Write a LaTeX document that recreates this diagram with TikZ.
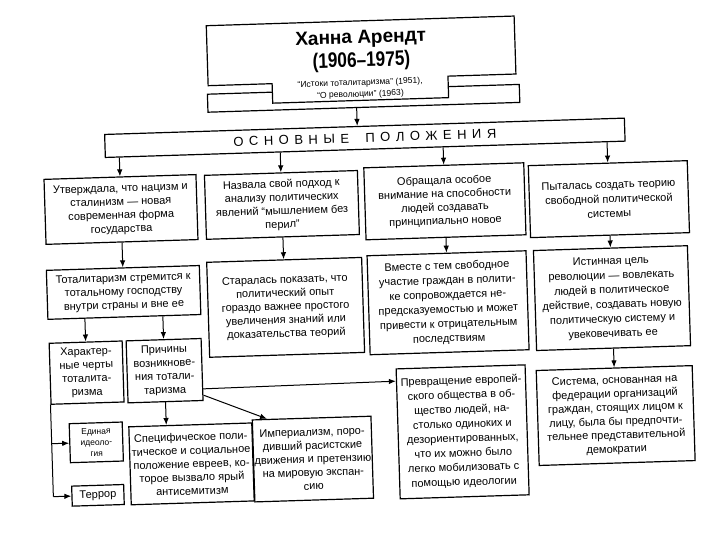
\documentclass[tikz,border=0pt]{standalone}
\usepackage{fontspec}
\setmainfont{Liberation Sans}
\newfontfamily\yearfont[FakeStretch=0.82]{Liberation Sans}
\usetikzlibrary{arrows.meta,calc}
\tikzset{
  frame/.style={draw, line width=1.2pt, fill=white},
  txtbox/.style={draw, line width=1.2pt, fill=white, align=center, inner sep=1pt,
    font=\fontsize{11}{13.5}\selectfont},
  widebox/.style={txtbox, font=\fontsize{11}{14.5}\selectfont},
  smallbox/.style={txtbox, font=\fontsize{8.5}{11}\selectfont},
  arr/.style={line width=1pt, -{Latex[length=7pt,width=5.5pt]}},
  plainline/.style={line width=1pt},
}
\begin{document}
\begin{tikzpicture}[x=1pt,y=-1pt]
\useasboundingbox (0,0) rectangle (720,540);
\fill[white] (0,0) rectangle (720,540);
\begin{scope}[rotate around={1.8:(360,270)}, transform shape]
% title block
\node[frame, minimum width=312pt, minimum height=18pt, inner sep=0pt] (strip) at (369,98.5) {};
\draw[frame] (214,21) -- (522,21) -- (522,79) -- (454,79) -- (454,100.5) -- (278,100.5) -- (278,81) -- (214,81) -- cycle;
\node[font=\fontsize{19}{22}\selectfont\bfseries, anchor=base, inner sep=0pt] (tname) at (368,43.5) {Ханна Арендт};
\node[font=\yearfont\fontsize{21}{25}\selectfont\bfseries, anchor=base, inner sep=0pt] (tyear) at (368,67) {(1906–1975)};
\node[font=\fontsize{8.6}{11.6}\selectfont, align=center, inner sep=0pt] (sub) at (366,89) {“Истоки тоталитаризма” (1951),\\“О революции” (1963)};
\coordinate (sa) at ($(strip.south west)!0.477!(strip.south east)$);
% main header
\node[txtbox, minimum width=520pt, minimum height=23pt, font=\fontsize{13}{15}\selectfont] (osn) at (369,138)
  {\makebox[263pt]{О\hfill С\hfill Н\hfill О\hfill В\hfill Н\hfill Ы\hfill Е\hfill\hfill\hfill П\hfill О\hfill Л\hfill О\hfill Ж\hfill Е\hfill Н\hfill И\hfill Я}};
% row 1
\node[txtbox, minimum width=152pt, minimum height=65pt] (b1) at (123,202) {Утверждала, что нацизм и\\сталинизм — новая\\современная форма\\государства};
\node[txtbox, minimum width=153pt, minimum height=64pt] (b2) at (284,202.5) {Назвала свой подход к\\анализу политических\\явлений “мышлением без\\перил”};
\node[txtbox, minimum width=160pt, minimum height=72pt] (b3) at (447,204) {Обращала особое\\внимание на способности\\людей создавать\\принципиально новое};
\node[widebox, minimum width=159pt, minimum height=72pt] (b4) at (611,207) {Пыталась создать теорию\\свободной политической\\системы};
% row 2
\node[txtbox, minimum width=153pt, minimum height=49pt] (t1) at (123,285) {Тоталитаризм стремится к\\тотальному господству\\внутри страны и вне ее};
\node[txtbox, minimum width=155pt, minimum height=95pt] (s2) at (284.5,305) {Старалась показать, что\\политический опыт\\гораздо важнее простого\\увеличения знаний или\\доказательства теорий};
\node[widebox, minimum width=159pt, minimum height=99pt] (v3) at (447,305.5) {Вместе с тем свободное\\участие граждан в полити-\\ке сопровождается не-\\предсказуемостью и может\\привести к отрицательным\\последствиям};
\node[widebox, minimum width=154pt, minimum height=100pt] (i4) at (611,306) {Истинная цель\\революции — вовлекать\\людей в политическое\\действие, создавать новую\\политическую систему и\\увековечивать ее};
% row 3
\node[txtbox, minimum width=73pt, minimum height=61pt] (h) at (83.5,364) {Характер-\\ные черты\\тоталита-\\ризма};
\node[txtbox, minimum width=75pt, minimum height=62pt] (p) at (161.5,364.5) {Причины\\возникнове-\\ния тотали-\\таризма};
\node[smallbox, minimum width=53pt, minimum height=39pt] (e) at (91,434) {Единая\\идеоло-\\гия};
\node[txtbox, minimum width=52pt, minimum height=20pt] (tr) at (91,487) {Террор};
\node[txtbox, minimum width=123pt, minimum height=78pt] (sp) at (185.5,458.5) {Специфическое поли-\\тическое и социальное\\положение евреев, ко-\\торое вызвало ярый\\антисемитизм};
\node[txtbox, minimum width=100pt, minimum height=82pt] (im) at (307,457.5) {Империализм, поро-\\дивший расистские\\движения и претензию\\на мировую экспан-\\сию};
\node[widebox, minimum width=129pt, minimum height=130pt] (pr) at (457.5,435) {Превращение европей-\\ского общества в об-\\щество людей, на-\\столько одиноких и\\дезориентированных,\\что их можно было\\легко мобилизовать с\\помощью идеологии};
\node[widebox, font=\fontsize{11}{13.8}\selectfont, minimum width=156pt, minimum height=95pt] (sy) at (611,423.5) {Система, основанная на\\федерации организаций\\граждан, стоящих лицом к\\лицу, была бы предпочти-\\тельнее представительной\\демократии};
% connectors
\draw[arr] (sa) -- ($(osn.north west)!(sa)!(osn.north east)$);
\foreach \b in {b1,b2,b3,b4}
  \draw[arr] ($(osn.south west)!(\b.north)!(osn.south east)$) -- (\b.north);
\draw[arr] (b1.south) -- ($(t1.north west)!(b1.south)!(t1.north east)$);
\draw[arr] (b2.south) -- ($(s2.north west)!(b2.south)!(s2.north east)$);
\draw[arr] (b3.south) -- ($(v3.north west)!(b3.south)!(v3.north east)$);
\draw[arr] (b4.south) -- ($(i4.north west)!(b4.south)!(i4.north east)$);
\draw[arr] (i4.south) -- ($(sy.north west)!(i4.south)!(sy.north east)$);
\draw[arr] ($(t1.south west)!(h.north)!(t1.south east)$) -- (h.north);
\draw[arr] ($(t1.south west)!(p.north)!(t1.south east)$) -- (p.north);
\draw[arr] (p.south) -- ($(sp.north west)!(p.south)!(sp.north east)$);
\coordinate (le) at ($(h.north west)!(e.west)!(h.south west)$);
\coordinate (lt) at ($(h.north west)!(tr.west)!(h.south west)$);
\draw[plainline] (h.south west) -- (lt);
\draw[arr] (le) -- (e.west);
\draw[arr] (lt) -- (tr.west);
\draw[arr] (p.-27) -- (pr.141);
\draw[arr] (p.-34) -- (im.137);
\end{scope}
\end{tikzpicture}
\end{document}
